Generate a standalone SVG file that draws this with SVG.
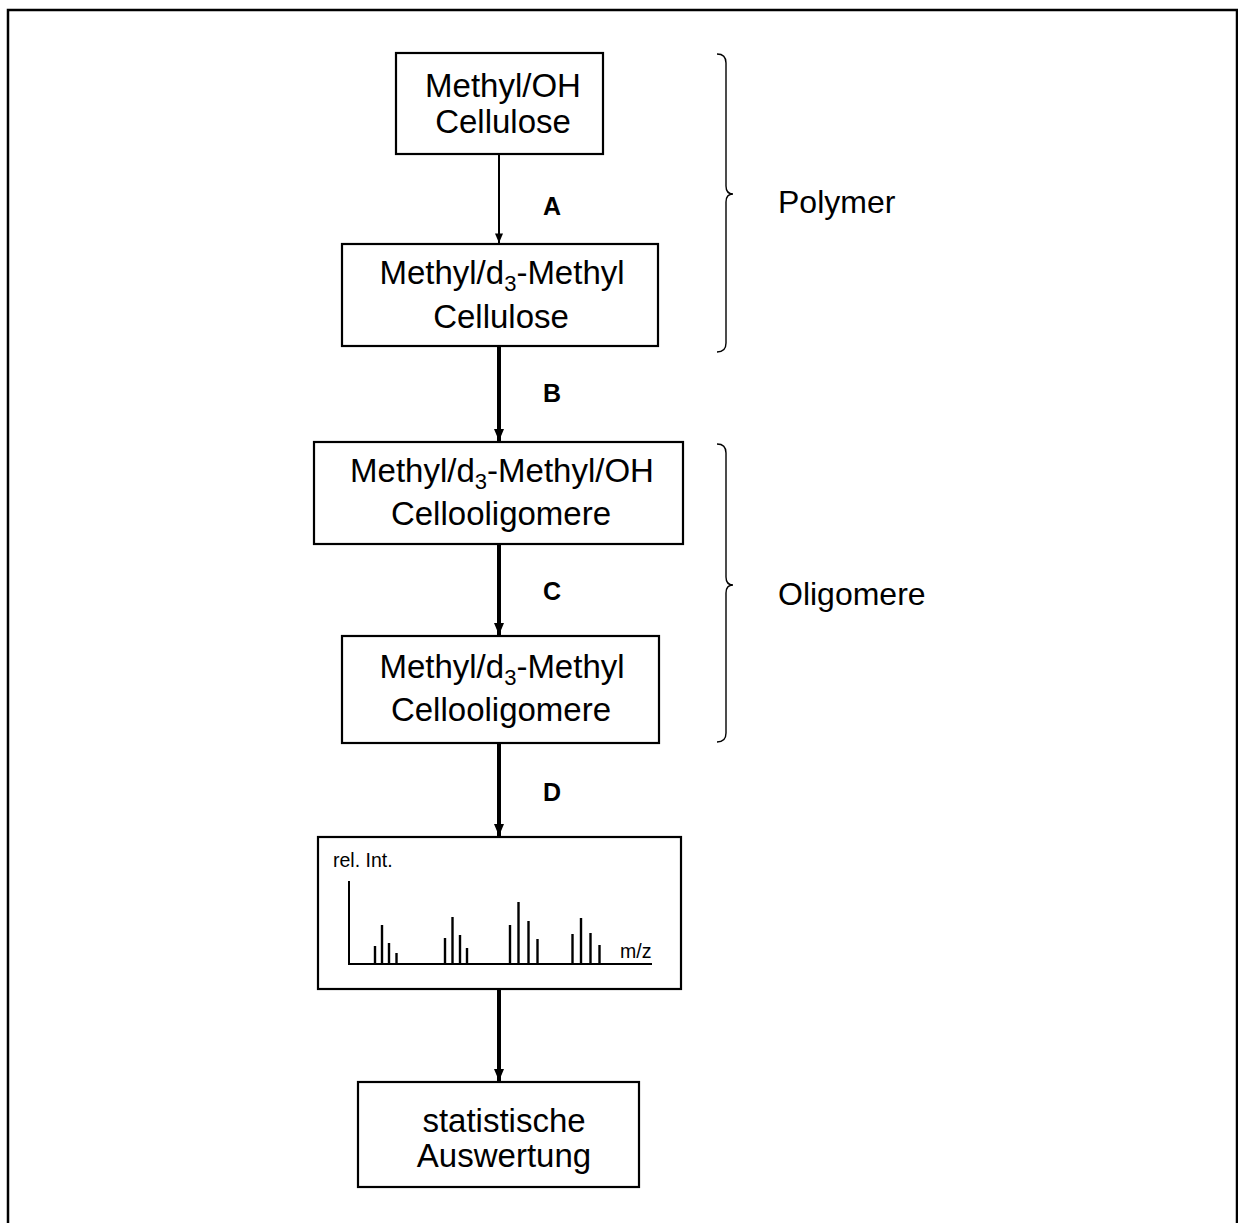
<svg xmlns="http://www.w3.org/2000/svg" width="1238" height="1223" viewBox="0 0 1238 1223">
<defs>
<style>
.box{fill:#fff;stroke:#000;stroke-width:2.2}
.t{font-family:"Liberation Sans",Arial,sans-serif;font-size:33px;fill:#000;text-anchor:middle}
.sub{font-size:22px}
.lbl{font-family:"Liberation Sans",Arial,sans-serif;font-size:25px;font-weight:bold;fill:#000}
.side{font-family:"Liberation Sans",Arial,sans-serif;font-size:32px;fill:#000}
.small{font-family:"Liberation Sans",Arial,sans-serif;font-size:19.5px;fill:#000}
.thin{stroke:#000;stroke-width:2;fill:none}
.thick{stroke:#000;stroke-width:4;fill:none}
.brace{stroke:#000;stroke-width:1.4;fill:none}
.peak{stroke:#000;stroke-width:2.4}
</style>
<marker id="ahs" viewBox="0 0 12 10" refX="12" refY="5" markerWidth="11" markerHeight="8" markerUnits="userSpaceOnUse" orient="auto">
<path d="M0 0 L12 5 L0 10 Z" fill="#000"/>
</marker>
<marker id="ahl" viewBox="0 0 12 10" refX="12" refY="5" markerWidth="13" markerHeight="10" markerUnits="userSpaceOnUse" orient="auto">
<path d="M0 0 L12 5 L0 10 Z" fill="#000"/>
</marker>
</defs>
<rect x="0" y="0" width="1238" height="1223" fill="#fff"/>
<rect x="8" y="10" width="1229" height="1230" fill="none" stroke="#000" stroke-width="2.5"/>

<g id="connectors">
<line x1="499" y1="155" x2="499" y2="243" class="thin" marker-end="url(#ahs)"/>
<line x1="499" y1="347" x2="499" y2="441" class="thick" marker-end="url(#ahl)"/>
<line x1="499" y1="545" x2="499" y2="635" class="thick" marker-end="url(#ahl)"/>
<line x1="499" y1="744" x2="499" y2="836" class="thick" marker-end="url(#ahl)"/>
<line x1="499" y1="990" x2="499" y2="1081" class="thick" marker-end="url(#ahl)"/>
<text class="lbl" x="543" y="215">A</text>
<text class="lbl" x="543" y="402">B</text>
<text class="lbl" x="543" y="600">C</text>
<text class="lbl" x="543" y="801">D</text>
</g>

<g id="node-1">
<rect class="box" x="396" y="53" width="207" height="101"/>
<text class="t" x="503" y="97">Methyl/OH</text>
<text class="t" x="503" y="133">Cellulose</text>
</g>

<g id="node-2">
<rect class="box" x="342" y="244" width="316" height="102"/>
<text class="t" x="502" y="284">Methyl/d<tspan class="sub" dy="7">3</tspan><tspan dy="-7">-Methyl</tspan></text>
<text class="t" x="501" y="328">Cellulose</text>
</g>

<g id="node-3">
<rect class="box" x="314" y="442" width="369" height="102"/>
<text class="t" x="502" y="482">Methyl/d<tspan class="sub" dy="7">3</tspan><tspan dy="-7">-Methyl/OH</tspan></text>
<text class="t" x="501" y="525">Cellooligomere</text>
</g>

<g id="node-4">
<rect class="box" x="342" y="636" width="317" height="107"/>
<text class="t" x="502" y="678">Methyl/d<tspan class="sub" dy="7">3</tspan><tspan dy="-7">-Methyl</tspan></text>
<text class="t" x="501" y="721">Cellooligomere</text>
</g>

<g id="node-5">
<rect class="box" x="318" y="837" width="363" height="152"/>
<text class="small" x="333" y="867">rel. Int.</text>
<text class="small" x="620" y="958">m/z</text>
<path d="M349 881 L349 964 L652 964" class="thin"/>
<g class="peak">
<line x1="375" y1="964" x2="375" y2="946"/>
<line x1="382" y1="964" x2="382" y2="925"/>
<line x1="389" y1="964" x2="389" y2="943"/>
<line x1="396.5" y1="964" x2="396.5" y2="953"/>
<line x1="445" y1="964" x2="445" y2="938"/>
<line x1="452.5" y1="964" x2="452.5" y2="917"/>
<line x1="460" y1="964" x2="460" y2="935"/>
<line x1="467" y1="964" x2="467" y2="948"/>
<line x1="510" y1="964" x2="510" y2="925"/>
<line x1="518.5" y1="964" x2="518.5" y2="902"/>
<line x1="528.5" y1="964" x2="528.5" y2="921"/>
<line x1="537.5" y1="964" x2="537.5" y2="939"/>
<line x1="572.5" y1="964" x2="572.5" y2="934"/>
<line x1="581" y1="964" x2="581" y2="918"/>
<line x1="590.5" y1="964" x2="590.5" y2="933"/>
<line x1="599.5" y1="964" x2="599.5" y2="945"/>
</g>
</g>

<g id="node-6">
<rect class="box" x="358" y="1082" width="281" height="105"/>
<text class="t" x="504" y="1132">statistische</text>
<text class="t" x="504" y="1167">Auswertung</text>
</g>

<g id="brace-polymer">
<path class="brace" d="M717 54 Q726 54 726 63 L726 186 Q726 194 733 194 Q726 194 726 202 L726 343 Q726 352 717 352"/>
<text class="side" x="778" y="213">Polymer</text>
</g>

<g id="brace-oligomere">
<path class="brace" d="M717 444 Q726 444 726 453 L726 577 Q726 585 733 585 Q726 585 726 593 L726 733 Q726 742 717 742"/>
<text class="side" x="778" y="605">Oligomere</text>
</g>
</svg>
